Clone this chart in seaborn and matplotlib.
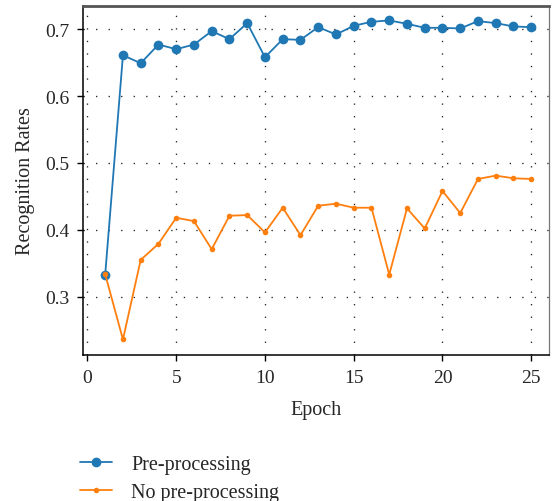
import matplotlib
matplotlib.use("Agg")
import matplotlib.pyplot as plt
import seaborn as sns
import pandas as pd

epochs = list(range(1, 26))
pre_processing = [0.333, 0.661, 0.649, 0.677, 0.670, 0.677, 0.697, 0.685, 0.709, 0.658,
                  0.685, 0.684, 0.703, 0.692, 0.705, 0.711, 0.713, 0.708, 0.702, 0.702,
                  0.701, 0.712, 0.709, 0.704, 0.703]
no_pre_processing = [0.3335, 0.236, 0.355, 0.379, 0.418, 0.413, 0.371, 0.421, 0.422, 0.396,
                     0.433, 0.392, 0.436, 0.439, 0.433, 0.433, 0.333, 0.432, 0.402, 0.458,
                     0.425, 0.476, 0.481, 0.477, 0.476]
series_names = ["Pre-processing", "No pre-processing"]
x_ticks = [0, 5, 10, 15, 20, 25]
y_ticks = [0.3, 0.4, 0.5, 0.6, 0.7]

sns.set_style("white")
plt.rcParams['font.family'] = ['Liberation Serif', 'DejaVu Serif']

df = pd.DataFrame({
    "Epoch": epochs * 2,
    "Rate": pre_processing + no_pre_processing,
    "Series": [series_names[0]] * len(epochs) + [series_names[1]] * len(epochs),
})

fig = plt.figure(figsize=(5.52, 5.02), dpi=100)
ax = fig.add_axes([83 / 552, 1 - 356 / 502, (549 - 83) / 552, (356 - 7) / 502])

blue = "#1f77b4"
orange = "#ff7f0e"
sns.lineplot(data=df[df.Series == series_names[0]], x="Epoch", y="Rate", ax=ax,
             color=blue, marker="o", markersize=7, markeredgewidth=0, lw=1.3,
             label=series_names[0], zorder=3)
sns.lineplot(data=df[df.Series == series_names[1]], x="Epoch", y="Rate", ax=ax,
             color=orange, marker="o", markersize=4, markeredgewidth=0, lw=1.3,
             label=series_names[1], zorder=4)

ax.set_xlim(-0.25, 26.0)
ax.set_ylim(0.2128, 0.7346)
ax.set_xticks(x_ticks)
ax.set_yticks(y_ticks)
ax.set_yticklabels([f"{v:.1f}" for v in y_ticks])
ax.grid(True, color="#222222", linestyle=(0, (1, 8.5)), linewidth=0.95)
ax.tick_params(axis="both", which="both", direction="out", length=4, width=1,
               color="black", labelsize=14, pad=6, left=True, bottom=True)
ax.set_xlabel("Epoch", fontsize=14.5, labelpad=10)
ax.set_ylabel("Recognition Rates", fontsize=14.5, labelpad=7)

for s in ["left", "bottom"]:
    ax.spines[s].set_color("black")
    ax.spines[s].set_linewidth(1.1)
ax.spines["top"].set_color("#555555")
ax.spines["top"].set_linewidth(2.0)
ax.spines["right"].set_color("#777777")
ax.spines["right"].set_linewidth(0.9)

handles, labels = ax.get_legend_handles_labels()
ax.legend(handles, labels, loc="upper left", bbox_to_anchor=(80 / 552, 1 - 456 / 502),
          bbox_transform=fig.transFigure, frameon=False, fontsize=14.5,
          handlelength=1.6, handletextpad=0.95, labelspacing=0.45, borderaxespad=0,
          borderpad=0)

fig.savefig("out.png", dpi=100)
